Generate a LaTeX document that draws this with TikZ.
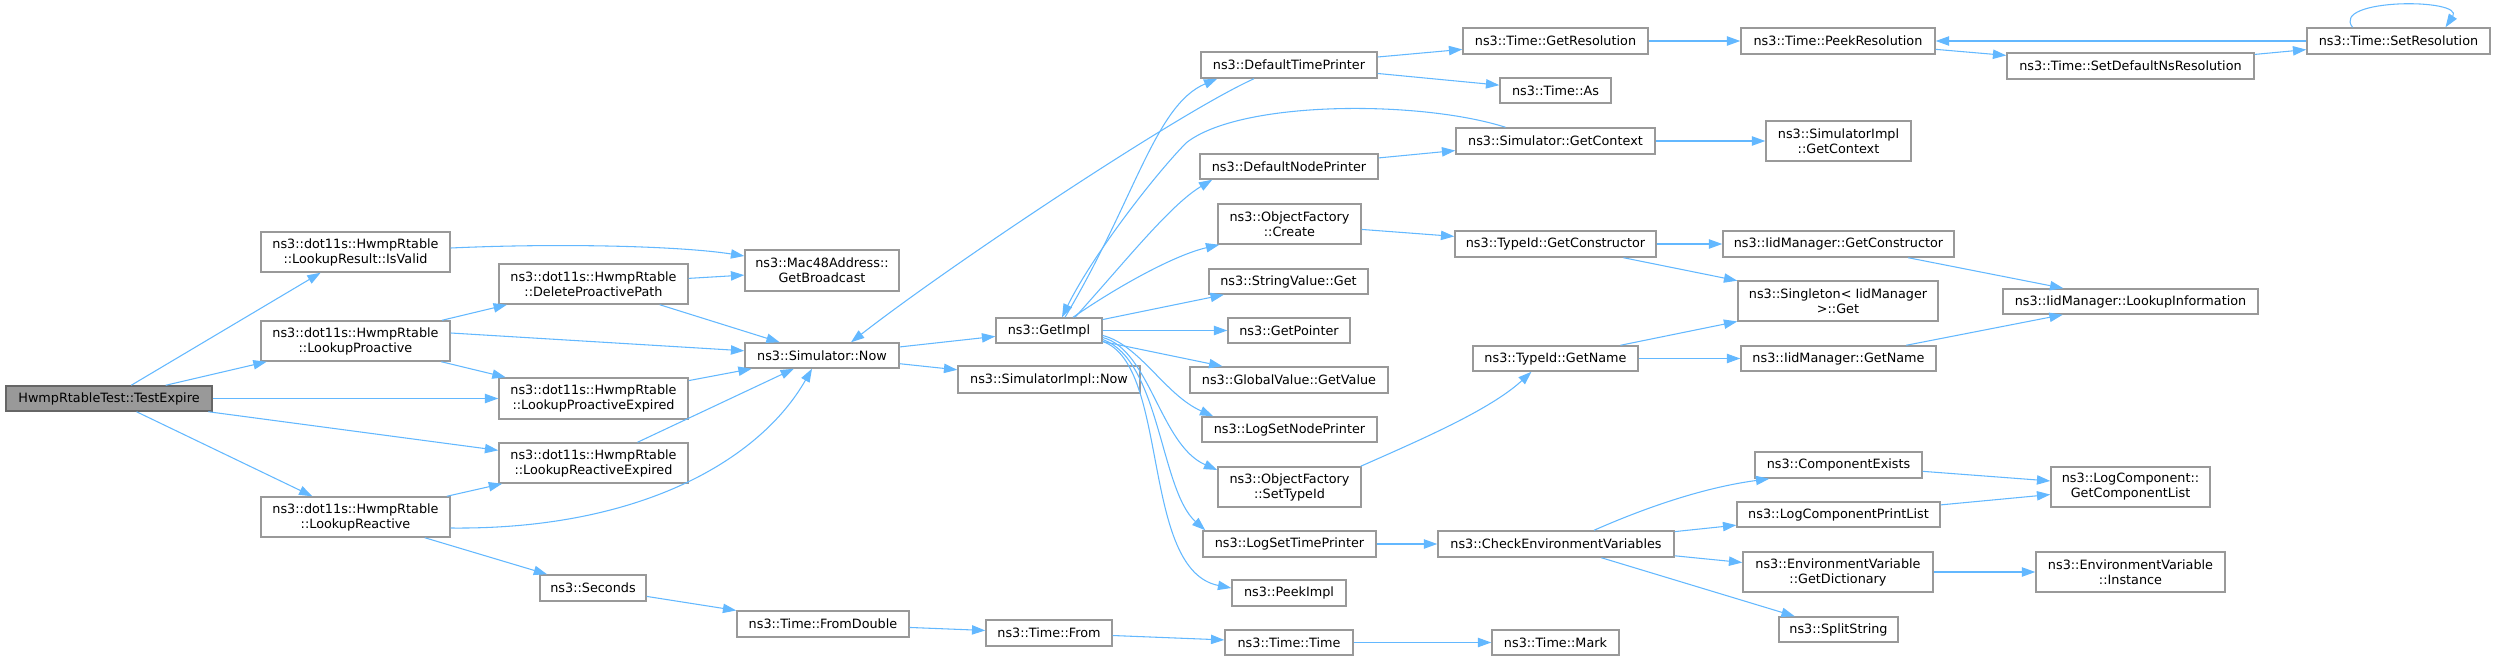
\documentclass[tikz,border=0pt]{standalone}
\usepackage{fontspec}
\setmainfont{DejaVu Sans}
\usetikzlibrary{arrows.meta,calc}
\definecolor{edgec}{HTML}{63B8FF}
\definecolor{boxc}{HTML}{999999}
\definecolor{rootfill}{HTML}{999999}
\definecolor{rootline}{HTML}{666666}
\tikzset{
  box/.style={draw=boxc,line width=1.1pt,fill=white,inner sep=0pt,align=center,
    font=\fontsize{9.6}{11.25}\selectfont},
  rootbox/.style={fill=rootfill,draw=rootline},
  edge/.style={draw=edgec,line width=0.8pt,-{Triangle[length=10pt,width=7pt]}}
}
\newcommand\gnode[7][]{%
  \pgfmathsetmacro\gncx{(#3+#5)/2}%
  \pgfmathsetmacro\gncy{(#4+#6)/2}%
  \pgfmathsetmacro\gnww{(#5-#3)*0.75}%
  \pgfmathsetmacro\gnhh{(#6-#4)*0.75}%
  \node[box,#1,minimum width=\gnww pt,minimum height=\gnhh pt] (#2) at (\gncx,\gncy) {#7};}
\begin{document}
\begin{tikzpicture}[x=0.75pt,y=-0.75pt]
\useasboundingbox (0,0) rectangle (2496,660);
% nodes
\gnode[rootbox]{root}{6}{386}{212}{411}{HwmpRtableTest::TestExpire}
\gnode{isvalid}{261}{232}{450}{272}{ns3::dot11s::HwmpRtable\\::LookupResult::IsValid}
\gnode{lproactive}{261}{321}{450}{361}{ns3::dot11s::HwmpRtable\\::LookupProactive}
\gnode{lreactive}{261}{497}{450}{537}{ns3::dot11s::HwmpRtable\\::LookupReactive}
\gnode{delpp}{499}{264}{688}{304}{ns3::dot11s::HwmpRtable\\::DeleteProactivePath}
\gnode{lpe}{499}{378}{688}{419}{ns3::dot11s::HwmpRtable\\::LookupProactiveExpired}
\gnode{lre}{499}{443}{688}{483}{ns3::dot11s::HwmpRtable\\::LookupReactiveExpired}
\gnode{seconds}{540}{575}{646}{601}{ns3::Seconds}
\gnode{getbroadcast}{745}{250}{899}{291}{ns3::Mac48Address::\\GetBroadcast}
\gnode{simnow}{745}{343}{899}{368}{ns3::Simulator::Now}
\gnode{fromdouble}{737}{611}{909}{637}{ns3::Time::FromDouble}
\gnode{getimpl}{996}{318}{1102}{343}{ns3::GetImpl}
\gnode{simimplnow}{958}{366}{1140}{393}{ns3::SimulatorImpl::Now}
\gnode{from}{986}{620}{1112}{646}{ns3::Time::From}
\gnode{dtp}{1201}{52}{1377}{78}{ns3::DefaultTimePrinter}
\gnode{dnp}{1200}{154}{1378}{179}{ns3::DefaultNodePrinter}
\gnode{ofcreate}{1218}{204}{1361}{244}{ns3::ObjectFactory\\::Create}
\gnode{svget}{1209}{269}{1368}{294}{ns3::StringValue::Get}
\gnode{getpointer}{1228}{318}{1350}{343}{ns3::GetPointer}
\gnode{gvget}{1190}{367}{1388}{393}{ns3::GlobalValue::GetValue}
\gnode{lsnp}{1202}{417}{1377}{442}{ns3::LogSetNodePrinter}
\gnode{ofsettypeid}{1218}{467}{1361}{507}{ns3::ObjectFactory\\::SetTypeId}
\gnode{lstp}{1203}{531}{1376}{557}{ns3::LogSetTimePrinter}
\gnode{peekimpl}{1232}{580}{1346}{606}{ns3::PeekImpl}
\gnode{timetime}{1225}{630}{1353}{655}{ns3::Time::Time}
\gnode{getres}{1463}{28}{1648}{54}{ns3::Time::GetResolution}
\gnode{timeas}{1500}{78}{1611}{103}{ns3::Time::As}
\gnode{getcontext}{1456}{128}{1655}{154}{ns3::Simulator::GetContext}
\gnode{tidgetctor}{1455}{231}{1656}{257}{ns3::TypeId::GetConstructor}
\gnode{tidgetname}{1473}{346}{1638}{371}{ns3::TypeId::GetName}
\gnode{cev}{1438}{531}{1674}{557}{ns3::CheckEnvironmentVariables}
\gnode{mark}{1492}{630}{1619}{655}{ns3::Time::Mark}
\gnode{peekres}{1741}{28}{1935}{54}{ns3::Time::PeekResolution}
\gnode{simimplctx}{1766}{121}{1911}{161}{ns3::SimulatorImpl\\::GetContext}
\gnode{iidgetctor}{1723}{231}{1954}{257}{ns3::IidManager::GetConstructor}
\gnode{singleton}{1738}{281}{1938}{321}{ns3::Singleton< IidManager\\ >::Get}
\gnode{iidgetname}{1741}{346}{1936}{371}{ns3::IidManager::GetName}
\gnode{compexists}{1755}{452}{1922}{478}{ns3::ComponentExists}
\gnode{lcpl}{1737}{502}{1940}{527}{ns3::LogComponentPrintList}
\gnode{getdict}{1743}{552}{1933}{592}{ns3::EnvironmentVariable\\::GetDictionary}
\gnode{splitstring}{1779}{617}{1898}{642}{ns3::SplitString}
\gnode{setdefns}{2007}{53}{2254}{79}{ns3::Time::SetDefaultNsResolution}
\gnode{lookupinfo}{2003}{289}{2258}{314}{ns3::IidManager::LookupInformation}
\gnode{getcomplist}{2051}{467}{2210}{507}{ns3::LogComponent::\\GetComponentList}
\gnode{envinstance}{2036}{552}{2225}{592}{ns3::EnvironmentVariable\\::Instance}
\gnode{setres}{2307}{28}{2490}{54}{ns3::Time::SetResolution}
% edges from root
\draw[edge] (root) -- (isvalid);
\draw[edge] (root) -- (lproactive);
\draw[edge] (root) -- (lpe);
\draw[edge] (root) -- (lre);
\draw[edge] (root) -- (lreactive);
% second column
\draw[edge] ($(isvalid.east)+(0,-4)$) .. controls (560,243) and (680,246) .. ($(getbroadcast.west)+(0,-14.5)$);
\draw[edge] (lproactive) -- (delpp);
\draw[edge] ($(lproactive.east)+(0,-8)$) -- (simnow);
\draw[edge] (lproactive) -- (lpe);
\draw[edge] (delpp) -- (getbroadcast);
\draw[edge] (delpp) -- (simnow);
\draw[edge] (lpe) -- (simnow);
\draw[edge] (lre) -- (simnow);
\draw[edge] (lreactive) -- (lre);
\draw[edge] ($(lreactive.east)+(0,11)$) .. controls (640,530) and (760,460) .. ($(simnow.south)+(-10,0)$);
\draw[edge] (lreactive) -- (seconds);
% Simulator::Now
\draw[edge] (simnow) -- (getimpl);
\draw[edge] (simnow) -- (simimplnow);
\draw[edge] ($(dtp.south)+(-35,0)$) .. controls (1180,112) and (950,265) .. ($(simnow.north)+(29,0)$);
% GetImpl
\draw[edge] ($(getimpl.north)+(16,0)$) .. controls (1135,200) and (1155,105) .. ($(dtp.south west)+(17,0)$);
\draw[edge] ($(getcontext.north)+(-50,0)$) .. controls (1420,100) and (1240,100) .. (1186,143)
   .. controls (1150,180) and (1090,260) .. ($(getimpl.north)+(13,0)$);
\draw[edge] ($(getimpl.north)+(26,0)$) .. controls (1125,262) and (1170,205) .. ($(dnp.south west)+(13,0)$);
\draw[edge] ($(getimpl.north)+(24,0)$) .. controls (1120,285) and (1175,255) .. ($(ofcreate.south west)+(2,0)$);
\draw[edge] (getimpl) -- (svget);
\draw[edge] (getimpl) -- (getpointer);
\draw[edge] (getimpl) -- (gvget);
\draw[edge] ($(getimpl.east)+(0,5)$) .. controls (1140,345) and (1165,395) .. ($(lsnp.north west)+(12,0)$);
\draw[edge] ($(getimpl.east)+(0,7)$) .. controls (1150,350) and (1160,445) .. ($(ofsettypeid.west)+(0,-17)$);
\draw[edge] ($(getimpl.east)+(0,9)$) .. controls (1160,360) and (1160,490) .. ($(lstp.north west)+(3,0)$);
\draw[edge] ($(getimpl.east)+(0,11)$) .. controls (1170,365) and (1140,570) .. ($(peekimpl.west)+(0,-5)$);
% printers
\draw[edge] (dtp) -- (getres);
\draw[edge] (dtp) -- (timeas);
\draw[edge] (dnp) -- (getcontext);
\draw[edge] (getcontext) -- (simimplctx);
% time resolution
\draw[edge] (getres) -- (peekres);
\draw[edge] (peekres) -- (setdefns);
\draw[edge] (setdefns) -- (setres);
\draw[edge] (setres) -- (peekres);
\draw[edge] ($(setres.north)+(-46,0)$) .. controls (2330,-2) and (2465,-2) .. ($(setres.north)+(47,0)$);
% object factory / type id
\draw[edge] (ofcreate) -- (tidgetctor);
\draw[edge] (tidgetctor) -- (iidgetctor);
\draw[edge] (tidgetctor) -- (singleton);
\draw[edge] (iidgetctor) -- (lookupinfo);
\draw[edge] ($(ofsettypeid.north east)+(-1,0)$) .. controls (1420,440) and (1490,410) .. ($(tidgetname.south)+(-24,0)$);
\draw[edge] (tidgetname) -- (singleton);
\draw[edge] (tidgetname) -- (iidgetname);
\draw[edge] (iidgetname) -- (lookupinfo);
% log
\draw[edge] (lstp) -- (cev);
\draw[edge] ($(cev.north)+(38,0)$) .. controls (1640,510) and (1700,488) .. ($(compexists.south west)+(15,0)$);
\draw[edge] (cev) -- (lcpl);
\draw[edge] (cev) -- (getdict);
\draw[edge] (cev) -- (splitstring);
\draw[edge] (compexists) -- (getcomplist);
\draw[edge] (lcpl) -- (getcomplist);
\draw[edge] (getdict) -- (envinstance);
% seconds chain
\draw[edge] (seconds) -- (fromdouble);
\draw[edge] (fromdouble) -- (from);
\draw[edge] (from) -- (timetime);
\draw[edge] (timetime) -- (mark);
\end{tikzpicture}
\end{document}
